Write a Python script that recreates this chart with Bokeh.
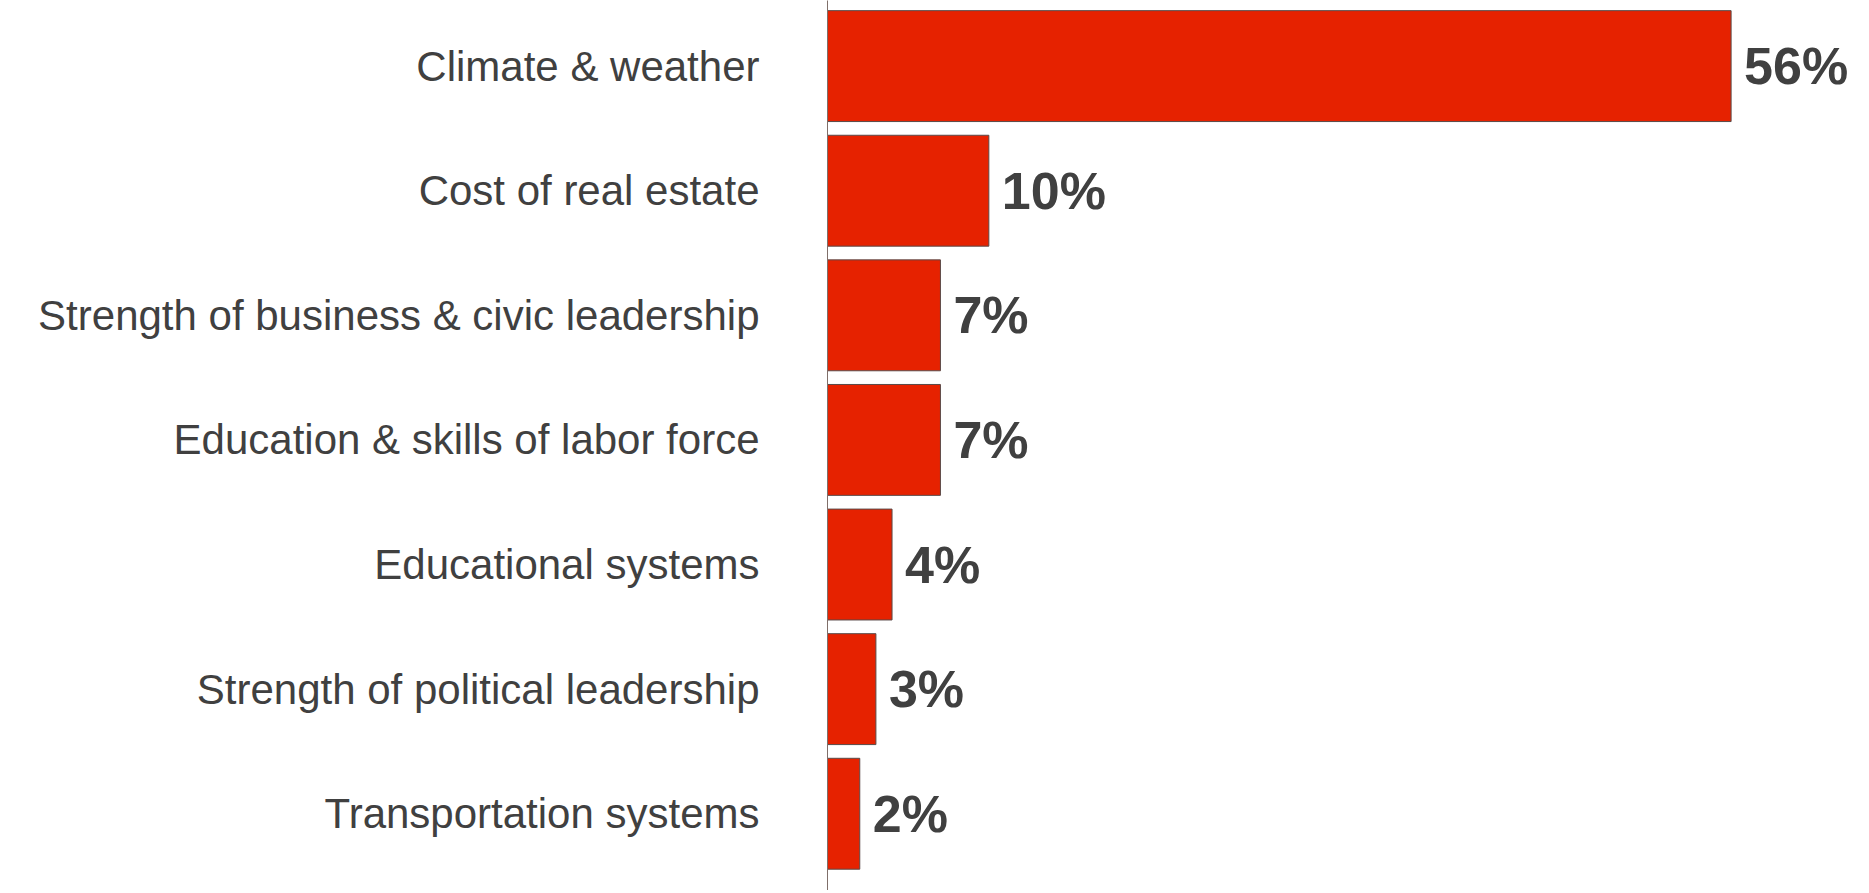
import numpy as np
from bokeh.plotting import figure
from bokeh.models import Range1d, FixedTicker, ColumnDataSource
from bokeh.core.properties import value
from bokeh.embed import file_html
from bokeh.resources import INLINE

categories = [
    "Climate & weather",
    "Cost of real estate",
    "Strength of business & civic leadership",
    "Education & skills of labor force",
    "Educational systems",
    "Strength of political leadership",
    "Transportation systems",
]
shares = [56, 10, 7, 7, 4, 3, 2]
share_labels = [f"{v}%" for v in shares]

pos = list(range(len(categories)))
src = ColumnDataSource(dict(y=pos, v=shares, lab=share_labels, cat=categories))

W, H = 1850, 890
p = figure(width=W, height=H, output_backend="svg", toolbar_location=None,
           x_range=Range1d(0, 63.4), y_range=Range1d(6.616, -0.5265),
           min_border_left=827, min_border_right=0, min_border_top=0, min_border_bottom=0,
           outline_line_color=None, background_fill_color="white", border_fill_color="white")

p.hbar(y="y", right="v", left=0, height=0.89, source=src,
       fill_color="#E62200", line_color="#5a4a48", line_width=1)

p.text(x="v", y="y", text="lab", source=src, x_offset=13,
       text_baseline="middle", text_align="left",
       text_font=value("Liberation Sans"),
       text_font_style="bold", text_font_size="52px", text_color="#404040")

p.xaxis.visible = False
p.xgrid.visible = False
p.ygrid.visible = False

ax = p.yaxis[0]
ax.ticker = FixedTicker(ticks=pos)
ax.major_label_overrides = {i: c for i, c in zip(pos, categories)}
ax.major_tick_line_color = None
ax.minor_tick_line_color = None
ax.axis_line_color = "#7f6f6a"
ax.axis_line_width = 1
ax.major_label_standoff = 62
ax.major_label_text_font = "Liberation Sans"
ax.major_label_text_font_size = "42px"
ax.major_label_text_color = "#404040"

open("out.html", "w").write(file_html(p, INLINE))
